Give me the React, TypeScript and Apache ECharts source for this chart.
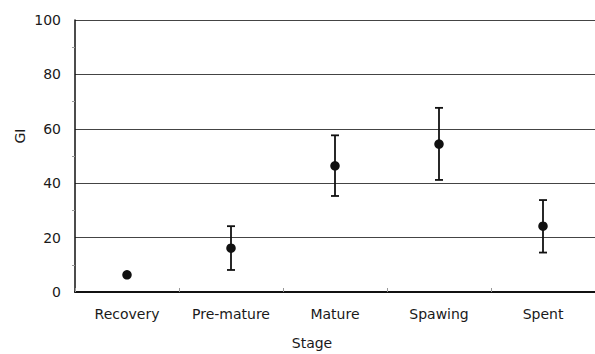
import React, { useEffect, useRef } from "react";
import * as echarts from "echarts";

const categories = ["Recovery", "Pre-mature", "Mature", "Spawing", "Spent"];
const means = [6.3, 16.1, 46.4, 54.4, 24.2];
const upper = [6.3, 24.2, 57.6, 67.7, 33.8];
const lower = [6.3, 8.1, 35.3, 41.2, 14.5];
const yTicks = [0, 20, 40, 60, 80, 100];

const FONT = "'DejaVu Sans', 'Noto Sans', sans-serif";

export default function App() {
  const ref = useRef<HTMLDivElement>(null);
  useEffect(() => {
    const chart = echarts.init(ref.current!, null, { renderer: "svg" });
    const errData = categories.map((c, i) => [i, lower[i], upper[i]]);
    chart.setOption({
      animation: false,
      backgroundColor: "#ffffff",
      grid: { left: 75, right: 0, top: 20, bottom: 62, containLabel: false },
      xAxis: {
        type: "category",
        data: categories,
        boundaryGap: true,
        axisLine: { show: true, lineStyle: { color: "#111", width: 2 } },
        axisTick: { show: true, inside: true, length: 4, lineStyle: { color: "#999", width: 1 } },
        axisLabel: { color: "#1a1a1a", fontSize: 14, fontFamily: FONT, margin: 15 },
        splitLine: { show: false },
      },
      yAxis: {
        type: "value",
        min: yTicks[0],
        max: yTicks[yTicks.length - 1],
        interval: 20,
        axisLine: { show: true, lineStyle: { color: "#111", width: 1.5 } },
        axisTick: { show: false },
        minorTick: { show: true, splitNumber: 2, length: 3, lineStyle: { color: "#999", width: 1 } },
        axisLabel: { color: "#1a1a1a", fontSize: 14, fontFamily: FONT, margin: 14 },
        splitLine: { show: true, lineStyle: { color: "#444", width: 1.2 } },
      },
      graphic: [
        {
          type: "text",
          x: 20,
          y: 136,
          rotation: Math.PI / 2,
          style: {
            text: "GI",
            font: `14px ${FONT}`,
            fill: "#1a1a1a",
            align: "center",
            verticalAlign: "middle",
          },
        },
        {
          type: "text",
          x: 312,
          y: 343,
          style: {
            text: "Stage",
            font: `14px ${FONT}`,
            fill: "#1a1a1a",
            align: "center",
            verticalAlign: "middle",
          },
        },
      ],
      series: [
        {
          type: "custom",
          data: errData,
          z: 2,
          renderItem: (params: any, api: any) => {
            const x = api.value(0);
            const lo = api.coord([x, api.value(1)]);
            const hi = api.coord([x, api.value(2)]);
            if (Math.abs(lo[1] - hi[1]) < 1) return { type: "group", children: [] };
            const hw = 4;
            const style = { stroke: "#111", lineWidth: 1.8 };
            return {
              type: "group",
              children: [
                { type: "line", shape: { x1: hi[0], y1: hi[1], x2: lo[0], y2: lo[1] }, style },
                { type: "line", shape: { x1: hi[0] - hw, y1: hi[1], x2: hi[0] + hw, y2: hi[1] }, style },
                { type: "line", shape: { x1: lo[0] - hw, y1: lo[1], x2: lo[0] + hw, y2: lo[1] }, style },
              ],
            };
          },
        },
        {
          type: "scatter",
          data: means,
          symbol: "circle",
          symbolSize: 9.5,
          z: 3,
          itemStyle: { color: "#111", opacity: 1 },
        },
      ],
    });
    return () => chart.dispose();
  }, []);
  return <div ref={ref} style={{ width: 595, height: 354, position: "absolute", left: 0, top: 0 }} />;
}
